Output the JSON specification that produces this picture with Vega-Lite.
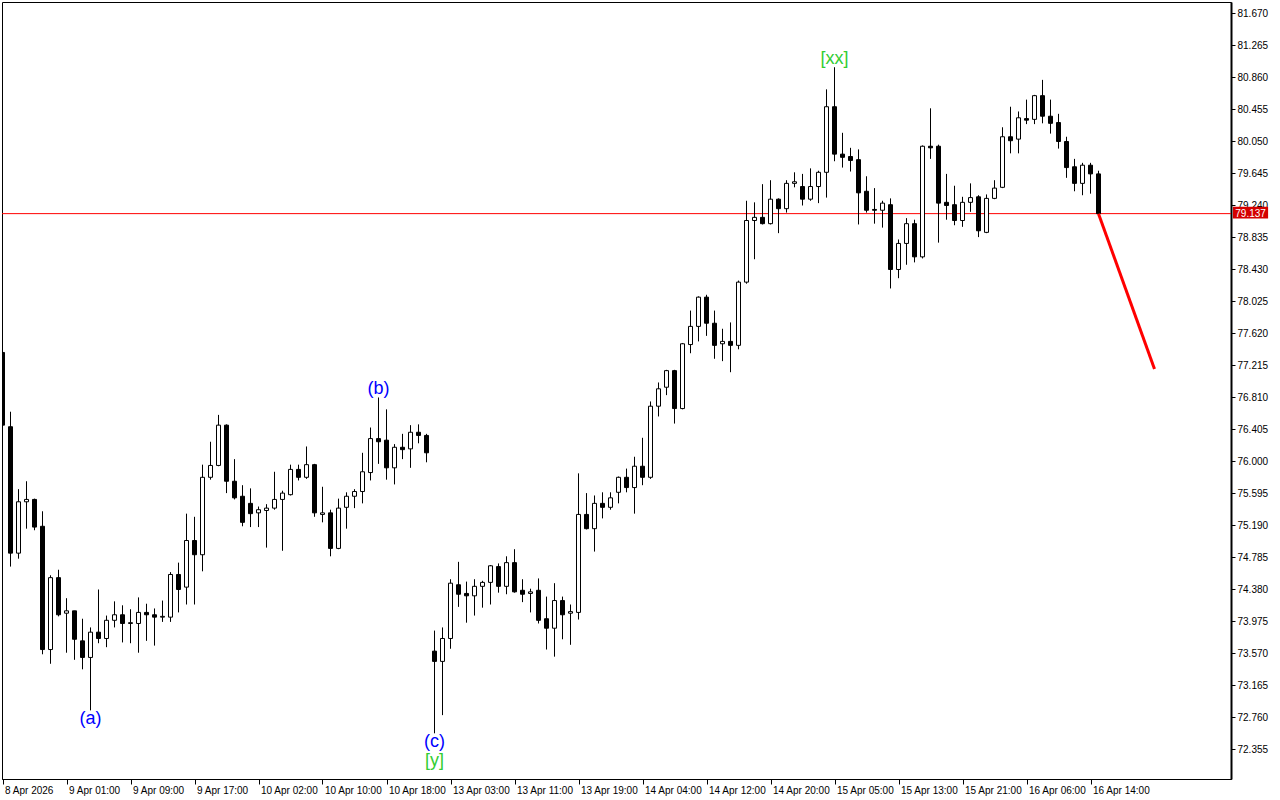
{
  "$schema": "https://vega.github.io/schema/vega-lite/v6.json",
  "width": 1229,
  "height": 777,
  "autosize": {"type": "none"},
  "padding": {"left": 2, "top": 2, "right": 49, "bottom": 21},
  "background": "white",
  "datasets": {
    "bars": [
      {"i":0,"o":77.38,"h":77.40,"l":76.43,"c":76.46},
      {"i":1,"o":76.44,"h":76.63,"l":74.67,"c":74.84},
      {"i":2,"o":74.84,"h":75.65,"l":74.77,"c":75.49},
      {"i":3,"o":75.49,"h":75.75,"l":75.15,"c":75.52},
      {"i":4,"o":75.52,"h":75.53,"l":75.13,"c":75.17},
      {"i":5,"o":75.18,"h":75.37,"l":73.56,"c":73.62},
      {"i":6,"o":73.62,"h":74.56,"l":73.44,"c":74.53},
      {"i":7,"o":74.53,"h":74.63,"l":74.04,"c":74.06},
      {"i":8,"o":74.08,"h":74.27,"l":73.58,"c":74.11},
      {"i":9,"o":74.11,"h":74.11,"l":73.49,"c":73.75},
      {"i":10,"o":73.73,"h":74.01,"l":73.37,"c":73.52},
      {"i":11,"o":73.52,"h":73.90,"l":72.85,"c":73.84},
      {"i":12,"o":73.84,"h":74.38,"l":73.70,"c":73.76},
      {"i":13,"o":73.76,"h":74.05,"l":73.65,"c":73.99},
      {"i":14,"o":73.99,"h":74.23,"l":73.90,"c":74.06},
      {"i":15,"o":74.06,"h":74.18,"l":73.71,"c":73.95},
      {"i":16,"o":73.95,"h":74.13,"l":73.70,"c":73.96},
      {"i":17,"o":73.95,"h":74.28,"l":73.58,"c":74.09},
      {"i":18,"o":74.09,"h":74.20,"l":73.73,"c":74.06},
      {"i":19,"o":74.06,"h":74.14,"l":73.67,"c":74.03},
      {"i":20,"o":74.03,"h":74.24,"l":73.97,"c":74.04},
      {"i":21,"o":74.03,"h":74.60,"l":73.97,"c":74.57},
      {"i":22,"o":74.57,"h":74.72,"l":74.09,"c":74.38},
      {"i":23,"o":74.41,"h":75.34,"l":74.19,"c":75.00},
      {"i":24,"o":75.00,"h":75.30,"l":74.19,"c":74.82},
      {"i":25,"o":74.82,"h":75.96,"l":74.61,"c":75.80},
      {"i":26,"o":75.80,"h":76.25,"l":75.77,"c":75.95},
      {"i":27,"o":75.95,"h":76.59,"l":75.94,"c":76.46},
      {"i":28,"o":76.46,"h":76.47,"l":75.60,"c":75.75},
      {"i":29,"o":75.75,"h":76.03,"l":75.52,"c":75.54},
      {"i":30,"o":75.56,"h":75.70,"l":75.18,"c":75.23},
      {"i":31,"o":75.47,"h":75.66,"l":75.17,"c":75.34},
      {"i":32,"o":75.35,"h":75.43,"l":75.17,"c":75.39},
      {"i":33,"o":75.38,"h":75.46,"l":74.91,"c":75.41},
      {"i":34,"o":75.41,"h":75.87,"l":75.39,"c":75.52},
      {"i":35,"o":75.52,"h":75.63,"l":74.87,"c":75.60},
      {"i":36,"o":75.58,"h":75.96,"l":75.57,"c":75.90},
      {"i":37,"o":75.90,"h":75.96,"l":75.76,"c":75.80},
      {"i":38,"o":75.80,"h":76.19,"l":75.78,"c":75.96},
      {"i":39,"o":75.96,"h":75.97,"l":75.30,"c":75.35},
      {"i":40,"o":75.33,"h":75.68,"l":75.23,"c":75.35},
      {"i":41,"o":75.35,"h":75.39,"l":74.80,"c":74.90},
      {"i":42,"o":74.90,"h":75.53,"l":74.89,"c":75.41},
      {"i":43,"o":75.42,"h":75.61,"l":75.15,"c":75.56},
      {"i":44,"o":75.56,"h":75.65,"l":75.41,"c":75.62},
      {"i":45,"o":75.62,"h":76.11,"l":75.47,"c":75.87},
      {"i":46,"o":75.86,"h":76.43,"l":75.76,"c":76.29},
      {"i":47,"o":76.29,"h":76.81,"l":75.97,"c":76.25},
      {"i":48,"o":76.27,"h":76.66,"l":75.77,"c":75.92},
      {"i":49,"o":75.92,"h":76.22,"l":75.71,"c":76.18},
      {"i":50,"o":76.18,"h":76.35,"l":76.03,"c":76.15},
      {"i":51,"o":76.16,"h":76.46,"l":75.92,"c":76.37},
      {"i":52,"o":76.37,"h":76.47,"l":76.23,"c":76.33},
      {"i":53,"o":76.33,"h":76.35,"l":75.99,"c":76.11},
      {"i":54,"o":73.60,"h":73.86,"l":72.56,"c":73.47},
      {"i":55,"o":73.47,"h":73.90,"l":72.79,"c":73.76},
      {"i":56,"o":73.76,"h":74.51,"l":73.63,"c":74.46},
      {"i":57,"o":74.44,"h":74.73,"l":74.16,"c":74.32},
      {"i":58,"o":74.33,"h":74.48,"l":73.96,"c":74.30},
      {"i":59,"o":74.30,"h":74.51,"l":74.05,"c":74.42},
      {"i":60,"o":74.42,"h":74.49,"l":74.15,"c":74.47},
      {"i":61,"o":74.47,"h":74.69,"l":74.19,"c":74.68},
      {"i":62,"o":74.67,"h":74.71,"l":74.34,"c":74.42},
      {"i":63,"o":74.42,"h":74.80,"l":74.32,"c":74.72},
      {"i":64,"o":74.72,"h":74.89,"l":74.34,"c":74.35},
      {"i":65,"o":74.37,"h":74.51,"l":74.22,"c":74.32},
      {"i":66,"o":74.33,"h":74.39,"l":74.09,"c":74.35},
      {"i":67,"o":74.37,"h":74.52,"l":73.95,"c":73.99},
      {"i":68,"o":74.01,"h":74.29,"l":73.62,"c":73.89},
      {"i":69,"o":73.89,"h":74.46,"l":73.53,"c":74.24},
      {"i":70,"o":74.24,"h":74.29,"l":73.75,"c":74.06},
      {"i":71,"o":74.08,"h":74.19,"l":73.68,"c":74.10},
      {"i":72,"o":74.09,"h":75.85,"l":74.00,"c":75.33},
      {"i":73,"o":75.33,"h":75.60,"l":75.14,"c":75.15},
      {"i":74,"o":75.15,"h":75.57,"l":74.86,"c":75.47},
      {"i":75,"o":75.47,"h":75.61,"l":75.28,"c":75.42},
      {"i":76,"o":75.42,"h":75.61,"l":75.39,"c":75.54},
      {"i":77,"o":75.61,"h":75.81,"l":75.47,"c":75.80},
      {"i":78,"o":75.80,"h":75.91,"l":75.61,"c":75.67},
      {"i":79,"o":75.67,"h":76.06,"l":75.34,"c":75.94},
      {"i":80,"o":75.94,"h":76.30,"l":75.70,"c":75.80},
      {"i":81,"o":75.80,"h":76.76,"l":75.78,"c":76.70},
      {"i":82,"o":76.70,"h":77.00,"l":76.57,"c":76.92},
      {"i":83,"o":76.94,"h":77.16,"l":76.84,"c":77.15},
      {"i":84,"o":77.15,"h":77.16,"l":76.48,"c":76.67},
      {"i":85,"o":76.67,"h":77.50,"l":76.66,"c":77.49},
      {"i":86,"o":77.48,"h":77.91,"l":77.37,"c":77.71},
      {"i":87,"o":77.71,"h":78.09,"l":77.52,"c":78.08},
      {"i":88,"o":78.08,"h":78.11,"l":77.59,"c":77.75},
      {"i":89,"o":77.75,"h":77.91,"l":77.30,"c":77.47},
      {"i":90,"o":77.49,"h":77.68,"l":77.27,"c":77.52},
      {"i":91,"o":77.52,"h":77.76,"l":77.13,"c":77.47},
      {"i":92,"o":77.47,"h":78.29,"l":77.42,"c":78.27},
      {"i":93,"o":78.27,"h":79.30,"l":78.25,"c":79.05},
      {"i":94,"o":79.05,"h":79.28,"l":78.56,"c":79.09},
      {"i":95,"o":79.09,"h":79.51,"l":79.00,"c":79.01},
      {"i":96,"o":79.01,"h":79.56,"l":79.00,"c":79.32},
      {"i":97,"o":79.32,"h":79.33,"l":78.89,"c":79.20},
      {"i":98,"o":79.20,"h":79.56,"l":79.15,"c":79.52},
      {"i":99,"o":79.52,"h":79.66,"l":79.47,"c":79.54},
      {"i":100,"o":79.48,"h":79.64,"l":79.24,"c":79.32},
      {"i":101,"o":79.32,"h":79.71,"l":79.30,"c":79.48},
      {"i":102,"o":79.48,"h":79.68,"l":79.27,"c":79.66},
      {"i":103,"o":79.66,"h":80.71,"l":79.34,"c":80.49},
      {"i":104,"o":80.49,"h":80.99,"l":79.80,"c":79.89},
      {"i":105,"o":79.89,"h":80.16,"l":79.72,"c":79.85},
      {"i":106,"o":79.86,"h":79.97,"l":79.67,"c":79.81},
      {"i":107,"o":79.82,"h":79.95,"l":79.00,"c":79.40},
      {"i":108,"o":79.42,"h":79.61,"l":79.15,"c":79.18},
      {"i":109,"o":79.19,"h":79.46,"l":79.01,"c":79.18},
      {"i":110,"o":79.18,"h":79.30,"l":78.96,"c":79.27},
      {"i":111,"o":79.25,"h":79.33,"l":78.19,"c":78.43},
      {"i":112,"o":78.43,"h":78.81,"l":78.32,"c":78.76},
      {"i":113,"o":78.76,"h":79.08,"l":78.49,"c":79.01},
      {"i":114,"o":79.01,"h":79.06,"l":78.52,"c":78.59},
      {"i":115,"o":78.59,"h":80.00,"l":78.57,"c":79.99},
      {"i":116,"o":79.99,"h":80.47,"l":79.83,"c":79.97},
      {"i":117,"o":79.99,"h":80.01,"l":78.77,"c":79.27},
      {"i":118,"o":79.28,"h":79.64,"l":79.06,"c":79.24},
      {"i":119,"o":79.25,"h":79.49,"l":78.99,"c":79.05},
      {"i":120,"o":79.05,"h":79.35,"l":78.97,"c":79.28},
      {"i":121,"o":79.28,"h":79.52,"l":79.16,"c":79.34},
      {"i":122,"o":79.35,"h":79.37,"l":78.84,"c":78.92},
      {"i":123,"o":78.90,"h":79.38,"l":78.89,"c":79.33},
      {"i":124,"o":79.33,"h":79.56,"l":79.32,"c":79.46},
      {"i":125,"o":79.47,"h":80.23,"l":79.46,"c":80.11},
      {"i":126,"o":80.11,"h":80.49,"l":79.90,"c":80.06},
      {"i":127,"o":80.08,"h":80.43,"l":79.90,"c":80.35},
      {"i":128,"o":80.34,"h":80.58,"l":80.27,"c":80.32},
      {"i":129,"o":80.33,"h":80.64,"l":80.27,"c":80.63},
      {"i":130,"o":80.63,"h":80.83,"l":80.28,"c":80.37},
      {"i":131,"o":80.37,"h":80.58,"l":80.15,"c":80.28},
      {"i":132,"o":80.29,"h":80.40,"l":79.96,"c":80.05},
      {"i":133,"o":80.05,"h":80.11,"l":79.59,"c":79.72},
      {"i":134,"o":79.73,"h":79.83,"l":79.42,"c":79.52},
      {"i":135,"o":79.52,"h":79.78,"l":79.37,"c":79.75},
      {"i":136,"o":79.75,"h":79.78,"l":79.39,"c":79.64},
      {"i":137,"o":79.64,"h":79.68,"l":79.137,"c":79.137}
    ],
    "last": [{"p": 79.137}],
    "proj": [{"i": 137, "p": 79.137}, {"i": 144, "p": 77.17}],
    "notes": [
      {"i": 11, "p": 72.85, "label": "(a)", "pos": "below", "grp": "minor"},
      {"i": 47, "p": 76.81, "label": "(b)", "pos": "above", "grp": "minor"},
      {"i": 54, "p": 72.56, "label": "(c)", "pos": "below", "grp": "minor"},
      {"i": 54, "p": 72.56, "label": "[y]", "pos": "below2", "grp": "major"},
      {"i": 104, "p": 80.99, "label": "[xx]", "pos": "above", "grp": "major"}
    ]
  },
  "layer": [
    {
      "data": {"name": "last"},
      "mark": {"type": "rule", "color": "#ff0000", "strokeWidth": 1},
      "encoding": {
        "y": {
          "field": "p",
          "type": "quantitative",
          "scale": {"domain": [71.9816, 81.8155], "nice": false, "zero": false, "padding": 0},
          "axis": {
            "orient": "right",
            "values": [81.670, 81.265, 80.860, 80.455, 80.050, 79.645, 79.240, 78.835, 78.430, 78.025, 77.620, 77.215, 76.810, 76.405, 76.000, 75.595, 75.190, 74.785, 74.380, 73.975, 73.570, 73.165, 72.760, 72.355],
            "tickCount": 40,
            "format": ".3f",
            "tickSize": 4,
            "labelPadding": 2,
            "domainWidth": 2,
            "labelOverlap": false,
            "labelFlush": false,
            "labelBound": false,
            "title": null
          }
        }
      }
    },
    {
      "data": {"name": "bars"},
      "mark": {"type": "rule", "color": "black", "strokeWidth": 1, "clip": true},
      "encoding": {
        "x": {
          "field": "i",
          "type": "quantitative",
          "scale": {"domain": [-0.0625, 153.5625], "nice": false, "zero": false, "padding": 0},
          "axis": {
            "values": [0, 8, 16, 24, 32, 40, 48, 56, 64, 72, 80, 88, 96, 104, 112, 120, 128, 136],
            "labelExpr": "['8 Apr 2026','9 Apr 01:00','9 Apr 09:00','9 Apr 17:00','10 Apr 02:00','10 Apr 10:00','10 Apr 18:00','13 Apr 03:00','13 Apr 11:00','13 Apr 19:00','14 Apr 04:00','14 Apr 12:00','14 Apr 20:00','15 Apr 05:00','15 Apr 13:00','15 Apr 21:00','16 Apr 06:00','16 Apr 14:00'][floor(datum.value/8)]",
            "labelAlign": "left",
            "labelOffset": 2,
            "labelPadding": 1,
            "tickSize": 5,
            "tickCount": 40,
            "labelFlush": false,
            "labelOverlap": false,
            "labelBound": false,
            "title": null
          }
        },
        "y": {
          "field": "l",
          "type": "quantitative",
          "axis": {
            "orient": "right",
            "values": [81.670, 81.265, 80.860, 80.455, 80.050, 79.645, 79.240, 78.835, 78.430, 78.025, 77.620, 77.215, 76.810, 76.405, 76.000, 75.595, 75.190, 74.785, 74.380, 73.975, 73.570, 73.165, 72.760, 72.355],
            "tickCount": 40,
            "format": ".3f",
            "tickSize": 4,
            "labelPadding": 2,
            "domainWidth": 2,
            "labelOverlap": false,
            "labelFlush": false,
            "labelBound": false,
            "title": null
          }
        },
        "y2": {"field": "h"}
      }
    },
    {
      "data": {"name": "bars"},
      "mark": {"type": "bar", "width": 4, "stroke": "black", "strokeWidth": 1, "clip": true},
      "encoding": {
        "x": {"field": "i", "type": "quantitative"},
        "y": {"field": "o", "type": "quantitative"},
        "y2": {"field": "c"},
        "fill": {"condition": {"test": "datum.c > datum.o", "value": "white"}, "value": "black"}
      }
    },
    {
      "data": {"name": "proj"},
      "mark": {"type": "line", "color": "#ff0000", "strokeWidth": 3},
      "encoding": {
        "x": {"field": "i", "type": "quantitative"},
        "y": {"field": "p", "type": "quantitative"}
      }
    },
    {
      "data": {"name": "notes"},
      "transform": [{"filter": "datum.pos == 'above'"}],
      "mark": {"type": "text", "font": "Liberation Sans", "fontSize": 18, "baseline": "bottom", "align": "center", "dy": 1},
      "encoding": {
        "x": {"field": "i", "type": "quantitative"},
        "y": {"field": "p", "type": "quantitative"},
        "text": {"field": "label"},
        "color": {"field": "grp", "type": "nominal", "scale": {"domain": ["minor", "major"], "range": ["#0000ff", "#32cd32"]}, "legend": null}
      }
    },
    {
      "data": {"name": "notes"},
      "transform": [{"filter": "datum.pos == 'below'"}],
      "mark": {"type": "text", "font": "Liberation Sans", "fontSize": 18, "baseline": "top", "align": "center", "dy": 0},
      "encoding": {
        "x": {"field": "i", "type": "quantitative"},
        "y": {"field": "p", "type": "quantitative"},
        "text": {"field": "label"},
        "color": {"field": "grp", "type": "nominal", "legend": null}
      }
    },
    {
      "data": {"name": "notes"},
      "transform": [{"filter": "datum.pos == 'below2'"}],
      "mark": {"type": "text", "font": "Liberation Sans", "fontSize": 18, "baseline": "top", "align": "center", "dy": 19},
      "encoding": {
        "x": {"field": "i", "type": "quantitative"},
        "y": {"field": "p", "type": "quantitative"},
        "text": {"field": "label"},
        "color": {"field": "grp", "type": "nominal", "legend": null}
      }
    },
    {
      "data": {"name": "last"},
      "mark": {"type": "rect", "fill": "#d40000", "clip": false},
      "encoding": {
        "x": {"datum": 153.81, "type": "quantitative"},
        "x2": {"datum": 158.2},
        "y": {"datum": 79.225, "type": "quantitative"},
        "y2": {"datum": 79.075}
      }
    },
    {
      "data": {"name": "last"},
      "mark": {"type": "text", "color": "white", "font": "Liberation Sans", "fontSize": 10, "align": "left", "baseline": "middle", "clip": false},
      "encoding": {
        "x": {"datum": 154.1, "type": "quantitative"},
        "y": {"field": "p", "type": "quantitative"},
        "text": {"field": "p", "type": "quantitative", "format": ".3f"}
      }
    }
  ],
  "config": {
    "view": {"stroke": "black", "strokeWidth": 1},
    "scale": {"continuousPadding": 0},
    "axis": {
      "labelFont": "Liberation Sans",
      "labelFontSize": 10,
      "labelColor": "#000000",
      "tickColor": "#000000",
      "domainColor": "#000000",
      "grid": false,
      "labelOverlap": false
    },
    "axisY": {"labelOverlap": false}
  }
}
